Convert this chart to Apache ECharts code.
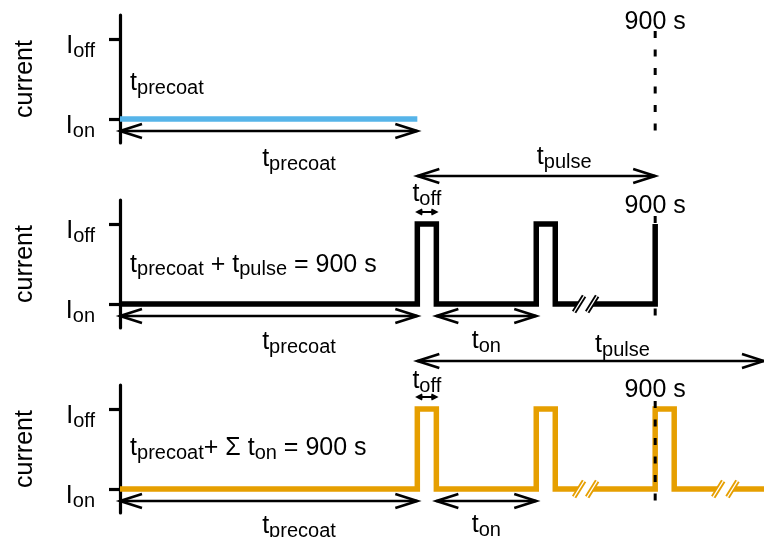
<!DOCTYPE html>
<html>
<head>
<meta charset="utf-8">
<script src="https://cdn.jsdelivr.net/npm/echarts@6/dist/echarts.min.js"></script>
<style>
html, body { margin: 0; background: #fff; }
#chart { width: 764px; height: 537px; }
</style>
</head>
<body>
<div id="chart"></div>
<script>
const FONT = "'Liberation Sans', Arial, Helvetica, sans-serif"
const BLACK = '#000000'
const COLORS = { precoat: '#56B4E9', pulse: '#000000', onTime: '#E69F00' }

// time axis in seconds, 900 s = end of deposition
const timeMax = 1083

// current levels: 0 = I_on, 1 = I_off
const levelTicks = [0, 1]
const levelLabels = ['{m|I}{s|on}', '{m|I}{s|off}']

// waveforms as [time (s), level]
const precoatWave = [[0, 0], [500, 0]]
const pulseWave = [[0, 0], [500, 0], [500, 1], [532, 1], [532, 0], [700, 0], [700, 1], [732, 1], [732, 0], [772, 0]]
const pulseTail = [[794, 0], [900, 0], [900, 1]]
const onTimeWave = [[0, 0], [500, 0], [500, 1], [532, 1], [532, 0], [700, 0], [700, 1], [732, 1], [732, 0], [772, 0]]
const onTimeMid = [[794, 0], [900, 0], [900, 1], [932, 1], [932, 0], [1006, 0]]
const onTimeTail = [[1030, 0], [1083, 0]]

// axis break marks on the waveform
const pulseBreaks = [[772, 0], [794, 0]]
const onTimeBreaks = [[772, 0], [794, 0], [1006, 0], [1030, 0]]

// dashed 900 s marker
const endMarker = [[900, 1.1], [900, -0.2]]

// double arrows [from, to, level]
const arrowsPrecoat = [[0, 500, -0.15]]
const arrowsPulse = [[0, 500, -0.15], [532, 700, -0.15], [500, 900, 1.6]]
const arrowsOnTime = [[0, 500, -0.15], [532, 700, -0.15], [500, 1083, 1.6]]
const offArrows = [[500, 532, 1.15]]

// text in each panel
const formulas = [
  '{m|t}{s|precoat}',
  '{m|t}{s|precoat}{m| + t}{s|pulse}{m| = 900 s}',
  '{m|t}{s|precoat}{m|+ Σ t}{s|on}{m| = 900 s}',
]
const formulaAt = [[17, 0.45], [17, 0.49], [17, 0.51]]

const labelsPrecoat = [
  [301, -0.5, '{m|t}{s|precoat}'],
  [900, 1.21, '{m|900 s}'],
]
const labelsPulse = [
  [747, 1.83, '{m|t}{s|pulse}'],
  [516, 1.37, '{m|t}{s|off}'],
  [900, 1.22, '{m|900 s}'],
  [301, -0.48, '{m|t}{s|precoat}'],
  [616, -0.47, '{m|t}{s|on}'],
]
const labelsOnTime = [
  [845, 1.8, '{m|t}{s|pulse}'],
  [516, 1.35, '{m|t}{s|off}'],
  [900, 1.23, '{m|900 s}'],
  [301, -0.47, '{m|t}{s|precoat}'],
  [616, -0.45, '{m|t}{s|on}'],
]

const RICH = {
  m: { fontSize: 25, lineHeight: 30, fontFamily: FONT, fill: BLACK, color: BLACK, verticalAlign: 'middle' },
  s: { fontSize: 20, lineHeight: 11, fontFamily: FONT, fill: BLACK, color: BLACK, verticalAlign: 'bottom' },
}

const panels = [
  { top: 15, color: COLORS.precoat, waves: [precoatWave], breaks: [], arrows: arrowsPrecoat, small: [], labels: labelsPrecoat },
  { top: 200, color: COLORS.pulse, waves: [pulseWave, pulseTail], breaks: pulseBreaks, arrows: arrowsPulse, small: offArrows, labels: labelsPulse },
  { top: 385, color: COLORS.onTime, waves: [onTimeWave, onTimeMid, onTimeTail], breaks: onTimeBreaks, arrows: arrowsOnTime, small: offArrows, labels: labelsOnTime },
]

function arrowChildren(a, b, head, half, width) {
  const stroke = { stroke: BLACK, lineWidth: width, fill: 'none', lineJoin: 'miter' }
  return [
    { type: 'line', shape: { x1: a[0], y1: a[1], x2: b[0], y2: b[1] }, style: stroke },
    { type: 'polyline', shape: { points: [[a[0] + head, a[1] - half], a, [a[0] + head, a[1] + half]] }, style: stroke },
    { type: 'polyline', shape: { points: [[b[0] - head, b[1] - half], b, [b[0] - head, b[1] + half]] }, style: stroke },
  ]
}

function arrowSeries(i, data, head, half, width) {
  return {
    type: 'custom', xAxisIndex: i, yAxisIndex: i, silent: true, z: 5,
    data: data,
    encode: { x: [0, 1], y: 2 },
    renderItem: (params, api) => {
      const a = api.coord([api.value(0), api.value(2)])
      const b = api.coord([api.value(1), api.value(2)])
      return { type: 'group', children: arrowChildren(a, b, head, half, width) }
    },
  }
}

function breakSeries(i, data, color) {
  return {
    type: 'custom', xAxisIndex: i, yAxisIndex: i, silent: true, z: 4,
    data: data,
    renderItem: (params, api) => {
      const p = api.coord([api.value(0), api.value(1)])
      const shape = { x1: p[0] - 5, y1: p[1] + 8, x2: p[0] + 5, y2: p[1] - 8 }
      return {
        type: 'group', children: [
          { type: 'line', shape, style: { stroke: color, lineWidth: 5 } },
          { type: 'line', shape, style: { stroke: '#fff', lineWidth: 1.4 } },
        ],
      }
    },
  }
}

function textSeries(i, items, align) {
  return {
    type: 'custom', xAxisIndex: i, yAxisIndex: i, silent: true, z: 6,
    data: items.map(d => [d[0], d[1]]),
    renderItem: (params, api) => {
      const p = api.coord([api.value(0), api.value(1)])
      return {
        type: 'text', x: p[0], y: p[1],
        style: { text: items[params.dataIndex][2], rich: RICH, align, verticalAlign: 'middle', fill: BLACK, fontFamily: FONT },
      }
    },
  }
}

const grid = panels.map(p => ({ left: 120, right: 0, top: p.top, height: 128 }))
const xAxis = panels.map((p, i) => ({ gridIndex: i, type: 'value', min: 0, max: timeMax, show: false }))
const yAxis = panels.map((p, i) => ({
  gridIndex: i, type: 'value', min: -0.3, max: 1.3,
  name: 'current', nameLocation: 'middle', nameGap: 82, nameRotate: 90,
  nameTextStyle: { fontSize: 25, color: BLACK, fontFamily: FONT },
  axisLine: { show: true, onZero: false, lineStyle: { color: BLACK, width: 3.2 } },
  axisTick: { show: true, customValues: levelTicks, length: 11, lineStyle: { color: BLACK, width: 3.2 } },
  axisLabel: {
    customValues: levelTicks, margin: 25, padding: [14, 0, 0, 0],
    formatter: v => levelLabels[levelTicks.indexOf(v)], rich: RICH,
  },
  splitLine: { show: false },
}))

const series = []
panels.forEach((p, i) => {
  p.waves.forEach(w => series.push({
    type: 'line', xAxisIndex: i, yAxisIndex: i, data: w, symbol: 'none', silent: true, z: 3,
    lineStyle: { color: p.color, width: 5.5, join: 'miter', cap: 'butt' },
  }))
  series.push(breakSeries(i, p.breaks, p.color))
  series.push({
    type: 'line', xAxisIndex: i, yAxisIndex: i, data: endMarker, symbol: 'none', silent: true, clip: false, z: 4,
    lineStyle: { color: BLACK, width: 3, type: [7, 11.5], cap: 'butt' },
  })
  series.push(arrowSeries(i, p.arrows, 22, 7, 2.6))
  series.push(arrowSeries(i, p.small, 5, 2.5, 2))
  series.push(textSeries(i, [[formulaAt[i][0], formulaAt[i][1], formulas[i]]], 'left'))
  series.push(textSeries(i, p.labels, 'center'))
})

const chart = echarts.init(document.getElementById('chart'))
chart.setOption({
  backgroundColor: '#fff',
  animation: false,
  grid, xAxis, yAxis, series,
})
</script>
</body>
</html>
